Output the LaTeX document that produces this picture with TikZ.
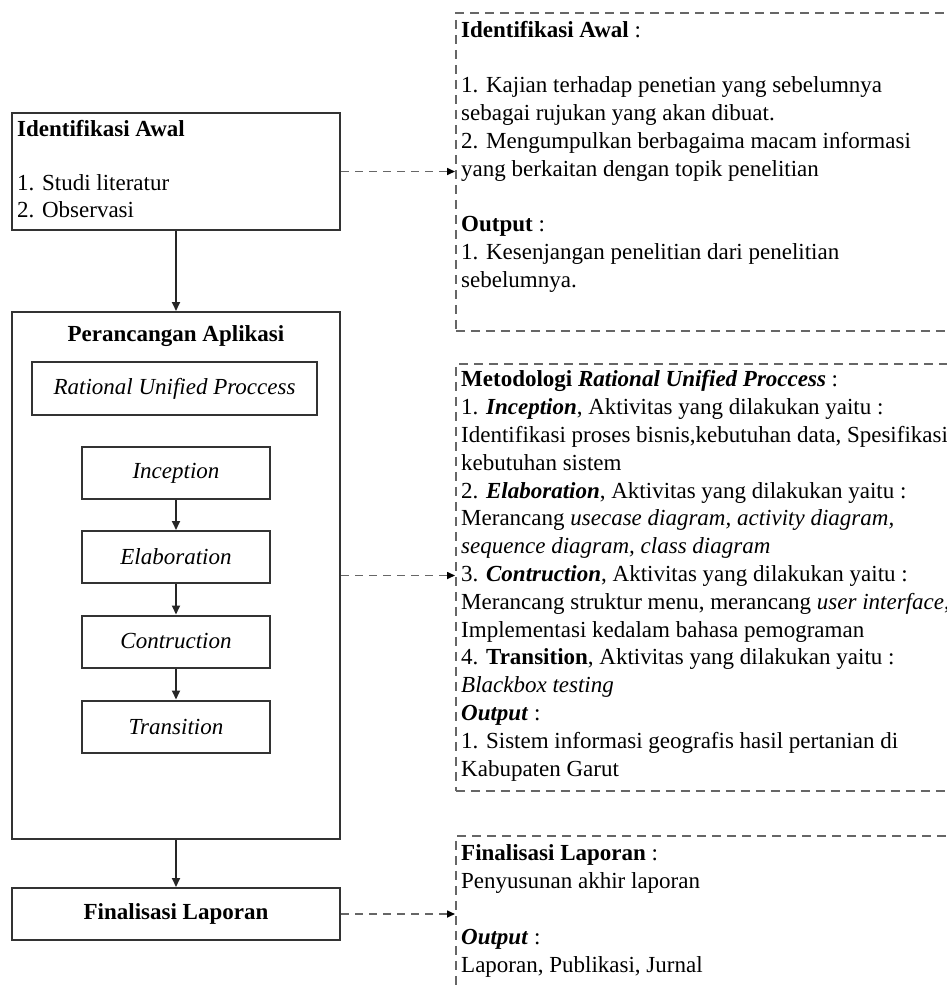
\documentclass[tikz,border=0pt]{standalone}
\usepackage{fontspec}
\setmainfont{Liberation Serif}
\usetikzlibrary{arrows.meta}
\begin{document}
\begin{tikzpicture}[x=1pt,y=-1pt,
  base font/.style={font=\fontsize{23}{27.8}\selectfont},
  solidbox/.style={draw=black!80, line width=2pt, inner sep=0pt, base font},
  stagebox/.style={solidbox, minimum width=188pt, minimum height=52pt, font=\fontsize{23}{27.8}\selectfont\itshape},
  dbox/.style={draw=black!60, line width=1.6pt, dash pattern=on 9pt off 6pt, inner sep=0pt, anchor=north west, minimum width=520pt},
  flow/.style={draw=black!85, line width=1.8pt, -{Triangle[length=9pt,width=8pt]}},
  link/.style={draw=black!60, line width=1.6pt, dash pattern=on 8pt off 6pt, -{Triangle[length=8pt,width=7pt,fill=black,color=black]}},
  txt/.style={base font, align=left, anchor=north west, inner sep=0pt},
]
\clip (0,0) rectangle (947,988);

% ---- left column: main stages ----
\node[solidbox, minimum width=328pt, minimum height=117pt] (ident) at (176,171.5) {};
\node[txt, font=\fontsize{23}{27}\selectfont] (identtxt) at (17,117)
  {\strut\textbf{Identifikasi Awal}\\[27pt]1. Studi literatur\\2. Observasi};

\node[solidbox, minimum width=328pt, minimum height=527pt] (design) at (176,575.5) {};
\node[base font, anchor=base, inner sep=0pt] (designtitle) at (176,341) {\textbf{Perancangan Aplikasi}};

\node[solidbox, minimum width=285pt, minimum height=53pt, font=\fontsize{23}{27.8}\selectfont\itshape] (rup) at (174.5,388.5) {Rational Unified Proccess};

\node[stagebox] (inception) at (176,473) {Inception};
\node[stagebox] (elab) at (176,557) {Elaboration};
\node[stagebox] (constr) at (176,641.5) {Contruction};
\node[stagebox] (trans) at (176,726.5) {Transition};

\node[solidbox, minimum width=328pt, minimum height=52pt] (final) at (176,914) {\textbf{Finalisasi Laporan}};

\draw[flow] (ident.south) -- (design.north);
\draw[flow] (inception.south) -- (elab.north);
\draw[flow] (elab.south) -- (constr.north);
\draw[flow] (constr.south) -- (trans.north);
\draw[flow] (design.south) -- (final.north);

% ---- right column: descriptions ----
\node[dbox, minimum height=318pt] (r1) at (455,12) {};
\node[txt] (r1txt) at (461,17.5) {\strut\textbf{Identifikasi Awal} :\\[27.8pt]
1. Kajian terhadap penetian yang sebelumnya\\
sebagai rujukan yang akan dibuat.\\
2. Mengumpulkan berbagaima macam informasi\\
yang berkaitan dengan topik penelitian\\[27.8pt]
\textbf{Output} :\\
1. Kesenjangan penelitian dari penelitian\\
sebelumnya.};

\node[dbox, minimum height=427pt] (r2) at (455,363) {};
\node[txt] (r2txt) at (461,367.2) {\strut\textbf{Metodologi \textit{Rational Unified Proccess}} :\\
1. \textbf{\textit{Inception}}, Aktivitas yang dilakukan yaitu :\\
Identifikasi proses bisnis,kebutuhan data, Spesifikasi\\
kebutuhan sistem\\
2. \textbf{\textit{Elaboration}}, Aktivitas yang dilakukan yaitu :\\
Merancang \textit{usecase diagram, activity diagram,}\\
\textit{sequence diagram, class diagram}\\
3. \textbf{\textit{Contruction}}, Aktivitas yang dilakukan yaitu :\\
Merancang struktur menu, merancang \textit{user interface},\\
Implementasi kedalam bahasa pemograman\\
4. \textbf{Transition}, Aktivitas yang dilakukan yaitu :\\
\textit{Blackbox testing}\\
\textbf{\textit{Output}} :\\
1. Sistem informasi geografis hasil pertanian di\\
Kabupaten Garut};

\node[dbox, minimum height=200pt] (r3) at (455,835) {};
\node[txt] (r3txt) at (461,841.3) {\strut\textbf{Finalisasi Laporan} :\\
Penyusunan akhir laporan\\[27.8pt]
\textbf{\textit{Output}} :\\
Laporan, Publikasi, Jurnal};

% ---- dashed links ----
\draw[link] (ident.east) -- (ident.east -| r1.west);
\draw[link] (design.east) -- (design.east -| r2.west);
\draw[link] (final.east) -- (final.east -| r3.west);
\end{tikzpicture}
\end{document}
